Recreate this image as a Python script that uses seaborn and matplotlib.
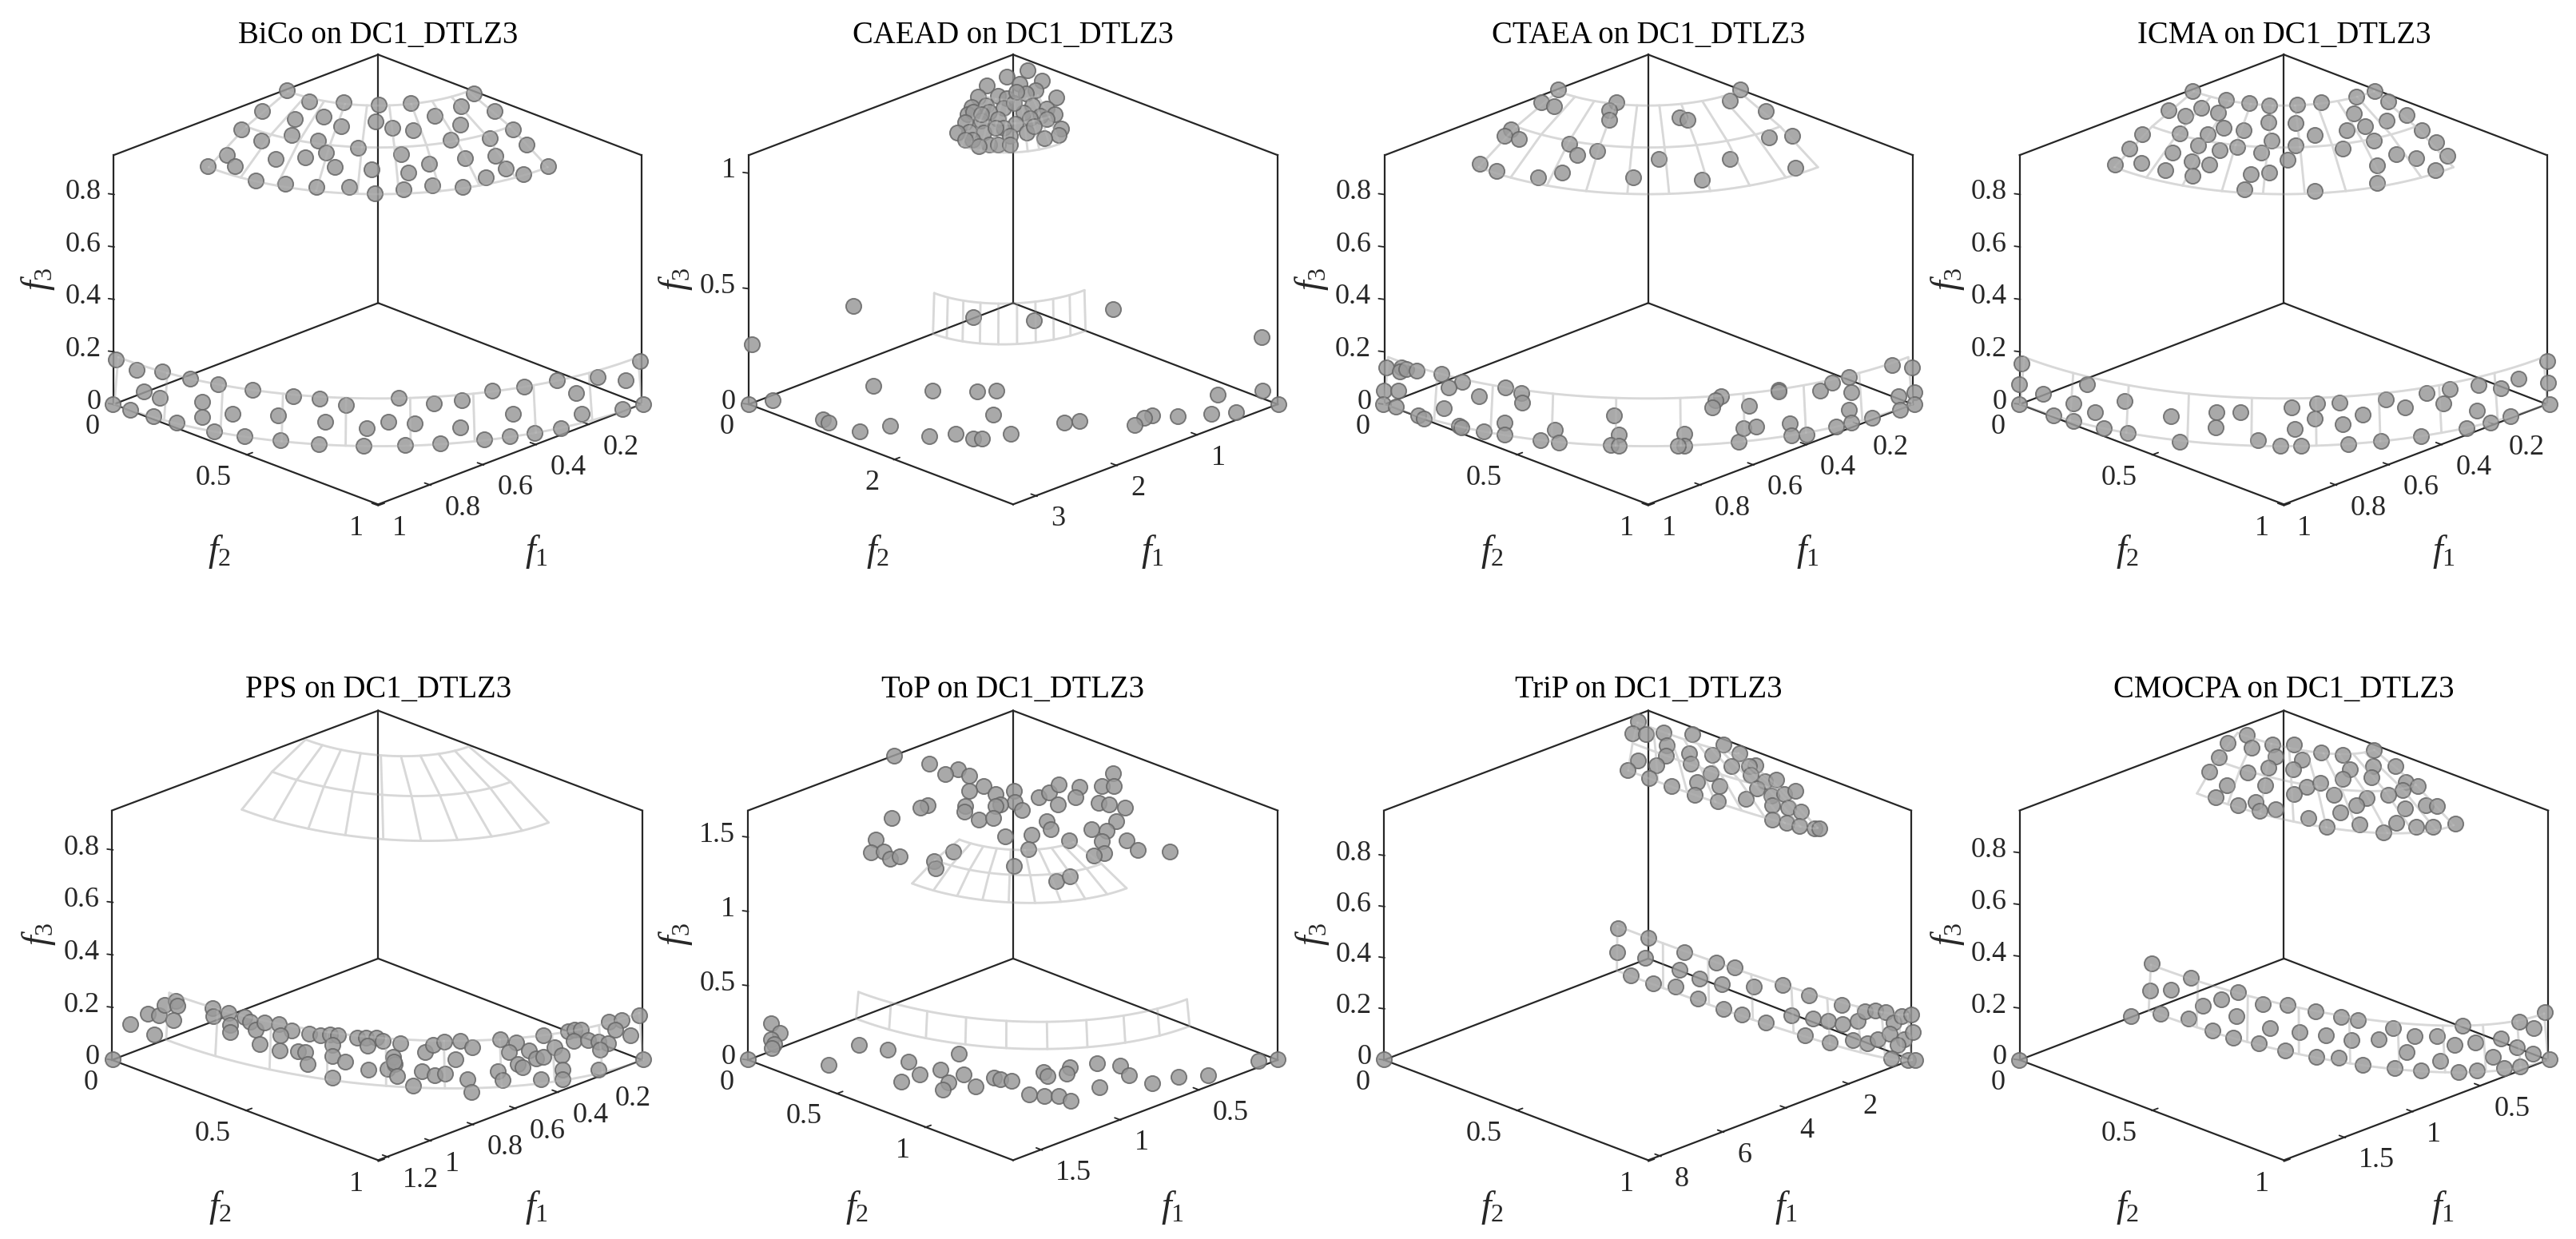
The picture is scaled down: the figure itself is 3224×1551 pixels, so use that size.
import numpy as np
import pandas as pd
import matplotlib
matplotlib.use("Agg")
import matplotlib.pyplot as plt
import seaborn as sns

sns.set_theme(style="white")
plt.rcParams["font.family"] = ["Liberation Serif", "DejaVu Serif"]
plt.rcParams["mathtext.fontset"] = "custom"
plt.rcParams["mathtext.it"] = "Liberation Serif:italic"
plt.rcParams["mathtext.rm"] = "Liberation Serif"

FIG_W, FIG_H = 3224, 1551

algorithms = ["BiCo", "CAEAD", "CTAEA", "ICMA", "PPS", "ToP", "TriP", "CMOCPA"]
problem = "DC1_DTLZ3"

# axis upper limits (f1, f2, f3)
f1_limits = [1.0, 3.3, 1.0, 1.0, 1.25, 1.686, 8.41, 1.955]
f2_limits = [1.0, 3.65, 1.0, 1.0, 1.0, 1.5, 1.0, 1.0]
f3_limits = [0.95, 1.078, 0.95, 0.95, 0.95, 1.68, 0.976, 0.963]

# tick values
f1_ticks = [[0.2, 0.4, 0.6, 0.8, 1], [1, 2, 3], [0.2, 0.4, 0.6, 0.8, 1], [0.2, 0.4, 0.6, 0.8, 1],
            [0.2, 0.4, 0.6, 0.8, 1, 1.2], [0.5, 1, 1.5], [2, 4, 6, 8], [0.5, 1, 1.5]]
f2_ticks = [[0, 0.5, 1], [0, 2], [0, 0.5, 1], [0, 0.5, 1], [0, 0.5, 1], [0, 0.5, 1], [0, 0.5, 1], [0, 0.5, 1]]
f3_ticks = [[0, 0.2, 0.4, 0.6, 0.8], [0, 0.5, 1], [0, 0.2, 0.4, 0.6, 0.8], [0, 0.2, 0.4, 0.6, 0.8],
            [0, 0.2, 0.4, 0.6, 0.8], [0, 0.5, 1, 1.5], [0, 0.2, 0.4, 0.6, 0.8], [0, 0.2, 0.4, 0.6, 0.8]]

# reference front: latitude bands and meridians, degrees
front_lat_upper = [50, 60, 70]
front_lat_lower = [0, 10]
front_lon = [0, 10, 20, 30, 40, 50, 60, 70, 80, 90]

# solutions, read in each panel's view plane (horizontal, vertical)
bico_pts = [(687,237),(740,266),(823,268),(907,274),(983,270),(1133,244),(1103,278),(1183,290),(627,290),(705,311),(774,306),(898,317),(1040,304),(1102,327),(577,339),(816,331),(939,334),(988,340),(1228,338),(697,354),(625,369),(762,368),(857,386),(1079,365),(1172,362),(1261,379),(543,405),(780,400),(730,411),(659,417),(960,403),(1112,414),(1185,408),(497,435),(563,435),(802,437),(890,443),(1026,428),(1210,441),(1312,435),(977,452),(1162,464),(1253,456),(612,472),(683,481),(757,489),(835,490),(897,506),(965,495),(1035,486),(1107,489),
(278,940),(327,967),(388,973),(455,990),(522,1006),(605,1021),(701,1037),(765,1044),(828,1060),(954,1041),(1039,1056),(1105,1048),(1178,1023),(1255,1011),(1332,996),(1378,1028),(1431,986),(1497,995),(1531,945),(344,1024),(382,1042),(484,1052),(483,1092),(556,1082),(666,1087),(779,1104),(878,1120),(930,1104),(993,1108),(1101,1118),(1228,1084),(270,1058),(311,1073),(367,1090),(423,1107),(512,1129),(585,1142),(671,1153),(763,1163),(870,1166),(970,1165),(1054,1161),(1159,1149),(1220,1142),(1279,1133),(1343,1120),(1392,1084),(1490,1070),(1540,1057)]

caead_pts = [(913,184),(863,201),(948,212),(814,223),(893,219),(933,237),(792,253),(840,250),(910,245),(983,256),(863,258),(777,280),(812,277),(855,283),(925,277),(960,285),(767,300),(820,293),(903,294),(980,300),(945,303),(780,292),(800,316),(840,312),(920,310),(960,312),(760,320),(883,325),(995,336),(770,345),(806,347),(855,335),(912,347),(740,347),(990,353),(955,362),(870,355),(778,366),(820,378),(840,378),(870,378),(793,382),(760,365),(800,300),(880,270),(835,335),(930,330),(885,240),
(486,801),(780,829),(929,838),(1123,809),(238,902),(1488,883),(535,1010),(680,1023),(789,1025),(836,1022),(1490,1022),(1380,1033),(288,1047),(229,1058),(1529,1058),(830,1086),(411,1098),(426,1105),(1003,1106),(1041,1102),(1219,1088),(1199,1094),(1176,1112),(1282,1089),(1364,1084),(1424,1078),(577,1115),(501,1128),(673,1142),(736,1135),(780,1147),(801,1148),(873,1135)]

ctaea_pts = [(647,234),(1093,234),(606,267),(637,279),(789,267),(773,288),(772,313),(1068,263),(1156,290),(944,308),(965,313),(532,338),(515,356),(551,363),(1165,360),(1221,355),(674,377),(693,405),(743,395),(893,416),(1068,417),(454,428),(495,448),(1228,440),(597,464),(656,452),(832,464),(1000,471),
(225,962),(262,962),(258,972),(274,965),(299,970),(361,979),(411,1000),(379,1013),(219,1023),(255,1023),(452,1036),(518,1013),(556,1028),(559,1054),(1047,1037),(1032,1047),(1026,1066),(1188,1020),(1187,1024),(1289,1023),(1320,1002),(1361,986),(1366,1027),(1467,956),(1515,962),(1520,1026),(1481,1037),(1520,1057),(1486,1072),(217,1058),(248,1065),(366,1068),(1116,1062),(1361,1073),(304,1088),(318,1095),(403,1114),(409,1118),(465,1128),(516,1107),(516,1138),(603,1152),(639,1125),(649,1158),(784,1087),(796,1137),(776,1165),(795,1166),(957,1135),(956,1166),(941,1166),(1089,1157),(1102,1120),(1132,1117),(1216,1108),(1220,1139),(1256,1138),(1329,1116),(1367,1107),(1418,1093)]

icma_pts = [(631,238),(1077,238),(1031,253),(714,262),(771,270),(820,275),(888,274),(945,267),(1110,266),(573,288),(654,283),(695,295),(615,304),(1025,296),(1155,301),(1105,315),(818,320),(883,322),(708,334),(756,340),(1054,330),(1008,340),(1192,341),(509,351),(600,349),(669,351),(930,353),(825,367),(1075,368),(1227,373),(883,380),(478,388),(646,381),(742,385),(698,393),(998,389),(800,399),(584,399),(1130,404),(1254,407),(1177,413),(864,418),(443,430),(507,427),(629,423),(673,430),(1083,432),(566,445),(631,459),(820,451),(775,456),(1225,446),(1083,479),(758,495),(930,499),
(214,951),(209,1005),(374,1005),(267,1030),(208,1057),(342,1055),(466,1049),(1498,945),(1499,1001),(1428,992),(1330,1008),(1385,1016),(1259,1018),(1204,1029),(1103,1045),(1151,1066),(1244,1055),(991,1053),(936,1056),(873,1066),(1503,1057),(293,1087),(341,1102),(393,1079),(415,1121),(474,1134),(579,1089),(690,1078),(748,1078),(689,1118),(931,1095),(881,1123),(998,1111),(1047,1086),(1326,1074),(1408,1089),(1359,1105),(1301,1120),(1189,1142),(1092,1155),(1012,1162),(898,1167),(847,1167),(792,1151),(600,1156)]

pps_pts = [(311,1006),(353,980),(381,984),(393,957),(420,945),(425,958),(414,995),(370,1033),(508,964),(511,985),(546,977),(585,987),(599,1000),(612,1020),(633,1002),(551,1008),(551,1028),(668,1007),(697,1024),(672,1035),(622,1059),(669,1075),(714,1078),(731,1080),(737,1110),(740,1032),(767,1035),(790,1033),(808,1035),(795,1060),(795,1090),(826,1104),(796,1147),(854,1042),(875,1042),(900,1042),(880,1062),(916,1051),(958,1056),(882,1125),(928,1123),(940,1093),(945,1110),(942,1105),(950,1143),(988,1168),(1017,1080),(1036,1060),(1063,1052),(1089,1098),(1101,1050),(1131,1067),(1009,1130),(1040,1140),(1065,1135),(1118,1150),(1128,1184),(1191,1130),(1203,1153),(1197,1045),(1235,1055),(1218,1080),(1266,1075),(1240,1110),(1250,1120),(1283,1097),(1301,1093),(1300,1036),(1328,1066),(1344,1088),(1347,1125),(1346,1150),(1295,1150),(1360,1025),(1375,1022),(1390,1022),(1373,1050),(1407,1048),(1432,1052),(1456,1056),(1436,1073),(1458,1001),(1487,995),(1472,1022),(1508,1035),(1530,984),(1433,1125),(270,1098),(1540,1098)]

top_pts = [(586,304),(673,325),(743,340),(712,353),(770,358),(805,385),(770,397),(835,405),(881,396),(882,425),(846,432),(834,437),(760,437),(759,452),(899,446),(668,435),(651,440),(793,471),(829,467),(581,468),(940,414),(966,400),(990,380),(1041,387),(1031,414),(987,433),(1124,351),(1095,384),(1126,385),(1088,428),(1113,432),(1152,441),(1131,475),(1071,496),(1107,502),(961,476),(970,497),(859,515),(923,512),(1015,527),(1096,528),(1157,526),(1184,551),(1262,555),(1101,560),(1077,566),(915,549),(732,555),(541,524),(529,557),(560,555),(577,575),(599,568),(685,581),(687,600),(881,592),(983,632),(1017,621),
(285,1005),(305,1030),(285,1045),(292,1058),(286,1070),(228,1098),(1480,1103),(1527,1098),(426,1113),(500,1061),(571,1073),(622,1105),(649,1138),(603,1156),(699,1125),(745,1083),(720,1158),(705,1178),(757,1138),(786,1170),(832,1147),(847,1150),(875,1155),(917,1190),(954,1195),(989,1195),(1020,1206),(952,1131),(962,1143),(1017,1120),(1009,1135),(1084,1108),(1140,1115),(1162,1140),(1089,1171),(1220,1160),(1284,1145),(1357,1140)]

trip_pts = [(843,216),(829,246),(863,249),(906,245),(977,248),(914,277),(1053,276),(1092,298),(912,305),(968,299),(1026,302),(843,317),(888,330),(973,326),(1073,333),(1130,330),(1115,333),(818,343),(871,363),(1021,350),(1120,354),(925,384),(988,373),(1042,385),(1155,371),(1181,368),(1135,390),(982,407),(1039,423),(1108,418),(1171,410),(1202,405),(1229,397),(1172,434),(1212,440),(1242,452),(1173,471),(1208,480),(1239,488),(1275,495),(1288,494),
(793,756),(868,780),(791,818),(957,818),(861,833),(1034,846),(1080,859),(945,864),(826,880),(881,900),(935,909),(994,888),(1049,901),(1127,908),(1198,905),(989,940),(1263,932),(1052,966),(1098,982),(1156,1003),(1342,957),(1219,983),(1273,991),(1309,997),(1345,1007),(1382,997),(1400,972),(1425,970),(1450,975),(1470,1002),(1490,985),(1513,982),(1253,1035),(1314,1054),(1371,1048),(1406,1057),(1430,1047),(1460,1032),(1495,1045),(1518,1028),(1480,1060),(1465,1097),(1505,1100),(1522,1100),(219,1098)]

cmocpa_pts = [(764,251),(718,272),(777,284),(826,275),(879,276),(696,310),(834,307),(945,296),(998,302),(1075,290),(1073,331),(1128,332),(900,316),(817,336),(878,340),(1017,340),(672,346),(767,349),(998,365),(1069,362),(715,382),(810,382),(911,386),(943,376),(1153,374),(1182,384),(1145,395),(879,406),(977,408),(1110,408),(1057,415),(688,414),(786,425),(743,435),(1031,435),(795,449),(835,444),(1150,443),(1201,435),(1229,436),(993,453),(915,468),(959,491),(1039,485),(1130,481),(1098,505),(1178,491),(1219,491),(1274,482),
(532,848),(628,886),(528,919),(579,916),(743,923),(703,942),(658,959),(482,985),(553,980),(623,992),(739,985),(803,954),(864,957),(932,972),(994,988),(1036,995),(680,1024),(731,1041),(821,1016),(893,1028),(957,1036),(1020,1049),(1087,1045),(1122,1017),(1175,1038),(1228,1037),(1291,1010),(1385,1044),(1430,1000),(1465,1016),(1492,976),(1272,1060),(1322,1055),(1423,1066),(1462,1083),(1155,1080),(1237,1103),(793,1057),(858,1076),(934,1091),(988,1094),(1047,1112),(1125,1122),(1189,1127),(1281,1131),(1327,1128),(1365,1092),(1392,1122),(1432,1116),(1503,1098),(208,1100)]

solutions = [bico_pts, caead_pts, ctaea_pts, icma_pts, pps_pts, top_pts, trip_pts, cmocpa_pts]

# view-plane geometry of each panel's box
box_left = [272, 230, 222, 210, 268, 228, 220, 210]
box_mid = [905, 878, 868, 855, 905, 878, 868, 855]
box_right = [1535, 1527, 1517, 1497, 1537, 1527, 1513, 1500]
row_shift = [0, 0, 0, 0, 42, 42, 42, 42]

f1_label_x = [1283, 1220, 1260, 1245, 1283, 1268, 1207, 1243]
f2_label_x = [525, 545, 485, 472, 527, 495, 485, 472]
f3_label_x = [90, 50, 42, 35, 93, 50, 45, 35]

panel_x0 = [0, 820, 1620, 2420, 0, 820, 1620, 2420]
panel_w = [820, 800, 800, 804, 820, 800, 800, 804]
panel_y0 = [0, 0, 0, 0, 800, 800, 800, 800]
panel_h = [750, 750, 750, 750, 751, 751, 751, 751]

BOX = "#262626"
MESH = "#d8d8d8"
FILL = "#9a9a9a"
EDGE = "#686868"
TICK_PT = 26
TITLE_PT = 27.8
LABEL_PT = 33

fig = plt.figure(figsize=(FIG_W / 100, FIG_H / 100), dpi=100, facecolor="white")

for i, name in enumerate(algorithms):
    W = panel_w[i]
    H = panel_h[i]
    ax = fig.add_axes([panel_x0[i] / FIG_W, 1 - (panel_y0[i] + H) / FIG_H, W / FIG_W, H / FIG_H])
    ax.set_xlim(0, 1568)
    ax.set_ylim(1568, 0)
    ax.axis("off")
    ax.patch.set_alpha(0)

    xl, xm, xr = box_left[i], box_mid[i], box_right[i]
    s = row_shift[i]
    y_top, y_lt, y_back, y_base, y_front = 143 + s + (2 if s else 0), 405 + s + 1, 793 + s, 1058 + s, 1320 + s
    hw = (xr - xl) / 2
    fl = (y_base - y_back)
    fmax1, fmax2, fmax3 = f1_limits[i], f2_limits[i], f3_limits[i]
    unit3 = (y_base - y_lt) / fmax3

    def proj(f1, f2, f3):
        n1 = np.asarray(f1) / fmax1
        n2 = np.asarray(f2) / fmax2
        return xm + (n2 - n1) * hw, y_back + (n1 + n2) * fl - np.asarray(f3) * unit3

    # reference front: opaque beneath the solutions, a faint trace above them
    for z, a_line in ((1, 1.0), (6, 0.22)):
        for bands in (front_lat_upper, front_lat_lower):
            for lat in bands:
                lons = np.radians(np.arange(front_lon[0], front_lon[-1] + 1, 2))
                la = np.radians(lat)
                hx, vy = proj(np.cos(la) * np.cos(lons), np.cos(la) * np.sin(lons), np.sin(la) * np.ones_like(lons))
                ax.plot(hx, vy, color=MESH, lw=2.0, alpha=a_line, zorder=z, solid_capstyle="round")
            for lon in front_lon:
                lo = np.radians(lon)
                las = np.radians(np.array(bands, dtype=float))
                hx, vy = proj(np.cos(las) * np.cos(lo), np.cos(las) * np.sin(lo), np.sin(las))
                ax.plot(hx, vy, color=MESH, lw=2.0, alpha=a_line, zorder=z)

    # box
    segs = [((xl, y_base), (xm, y_front)), ((xm, y_front), (xr, y_base)),
            ((xl, y_base), (xm, y_back)), ((xm, y_back), (xr, y_base)),
            ((xl, y_base), (xl, y_lt)), ((xr, y_base), (xr, y_lt)),
            ((xm, y_back), (xm, y_top)), ((xl, y_lt), (xm, y_top)), ((xm, y_top), (xr, y_lt))]
    for a, b in segs:
        ax.plot([a[0], b[0]], [a[1], b[1]], color=BOX, lw=1.6, zorder=2, solid_capstyle="projecting")

    # ticks and tick labels
    for t in f3_ticks[i]:
        px, py = proj(fmax1, 0, t)
        ax.plot([px, px - 14], [py, py - 2], color=BOX, lw=1.3, zorder=2)
        ax.text(px - 32, py - 6, f"{t:g}", ha="right", va="center", fontsize=TICK_PT, color=BOX)
    for t in f2_ticks[i]:
        px, py = proj(fmax1, t, 0)
        ax.plot([px, px + 15], [py, py - 6], color=BOX, lw=1.3, zorder=2)
        ax.text(px - 36, py + 60, f"{t:g}", ha="right", va="center", fontsize=TICK_PT, color=BOX)
    for t in f1_ticks[i]:
        px, py = proj(t, fmax2, 0)
        ax.plot([px, px - 15], [py, py - 6], color=BOX, lw=1.3, zorder=2)
        ax.text(px + 33, py + 60, f"{t:g}", ha="left", va="center", fontsize=TICK_PT, color=BOX)

    # axis names and title
    ax.text(f1_label_x[i], 1443 + s, r"$f_1$", ha="center", va="center", fontsize=LABEL_PT, color=BOX)
    ax.text(f2_label_x[i], 1443 + s, r"$f_2$", ha="center", va="center", fontsize=LABEL_PT, color=BOX)
    ax.text(f3_label_x[i], 730 + s, r"$f_3$", ha="center", va="center", rotation=90,
            fontsize=LABEL_PT, color=BOX)
    ax.text(xm, 92 + (s - 2 if s else 0), f"{name} on {problem}", ha="center", va="center",
            fontsize=TITLE_PT, color="black")

    # solutions
    pts = pd.DataFrame(solutions[i], columns=["h", "v"])
    sns.scatterplot(data=pts, x="h", y="v", ax=ax, s=190, color=FILL, edgecolor=EDGE,
                    linewidth=1.4, alpha=0.85, legend=False, zorder=5, clip_on=False)
    ax.set_xlabel("")
    ax.set_ylabel("")

fig.savefig("out.png", dpi=100, facecolor="white")
